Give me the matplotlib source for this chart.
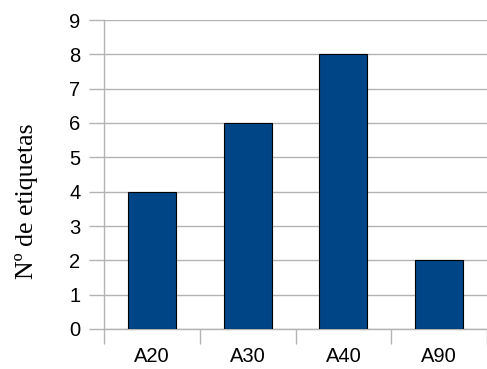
import numpy as np
from matplotlib import pyplot as plt

categories = ['A20', 'A30', 'A40', 'A90']
counts = [4, 6, 8, 2]

grey = '#b3b3b3'

fig = plt.figure(figsize=(4.87, 3.69), dpi=100)
ax = fig.add_axes([104 / 487, 1 - 329 / 369, 1 - 104 / 487, (329 - 20) / 369])

x = np.arange(len(categories))
ax.bar(x, counts, width=0.5, color='#004586', edgecolor='black', linewidth=0.8, zorder=3)

ax.set_xlim(-0.5, len(categories) - 0.5)
ax.set_ylim(0, 9)
ax.set_yticks(range(0, 10))
ax.yaxis.grid(True, color=grey, linewidth=1, zorder=0)

# ticks between categories, labels centred under the bars
ax.set_xticks(np.arange(-0.5, len(categories)), minor=False)
ax.set_xticklabels([])
ax.set_xticks(x, minor=True)
ax.set_xticklabels(categories, minor=True)
ax.tick_params(axis='x', which='major', length=11, width=1, color=grey, direction='out')
ax.tick_params(axis='x', which='minor', length=0, pad=13)
ax.tick_params(axis='y', length=11, width=1, color=grey, direction='out', pad=6)

for lbl in ax.get_xticklabels(minor=True) + ax.get_yticklabels():
    lbl.set_fontfamily('Liberation Sans')
    lbl.set_fontsize(14.5)

for side in ['top', 'right']:
    ax.spines[side].set_visible(False)
ax.spines['left'].set_color(grey)
ax.spines['bottom'].set_color(grey)
ax.spines['left'].set_linewidth(1)
ax.spines['bottom'].set_linewidth(1)

ax.set_ylabel('Nº de etiquetas', fontfamily='Liberation Serif', fontsize=18.5)
ax.yaxis.set_label_coords(-0.203, 0.414)
ax.yaxis.label.set_va('center')

plt.savefig('out.png', dpi=100)
plt.close()
